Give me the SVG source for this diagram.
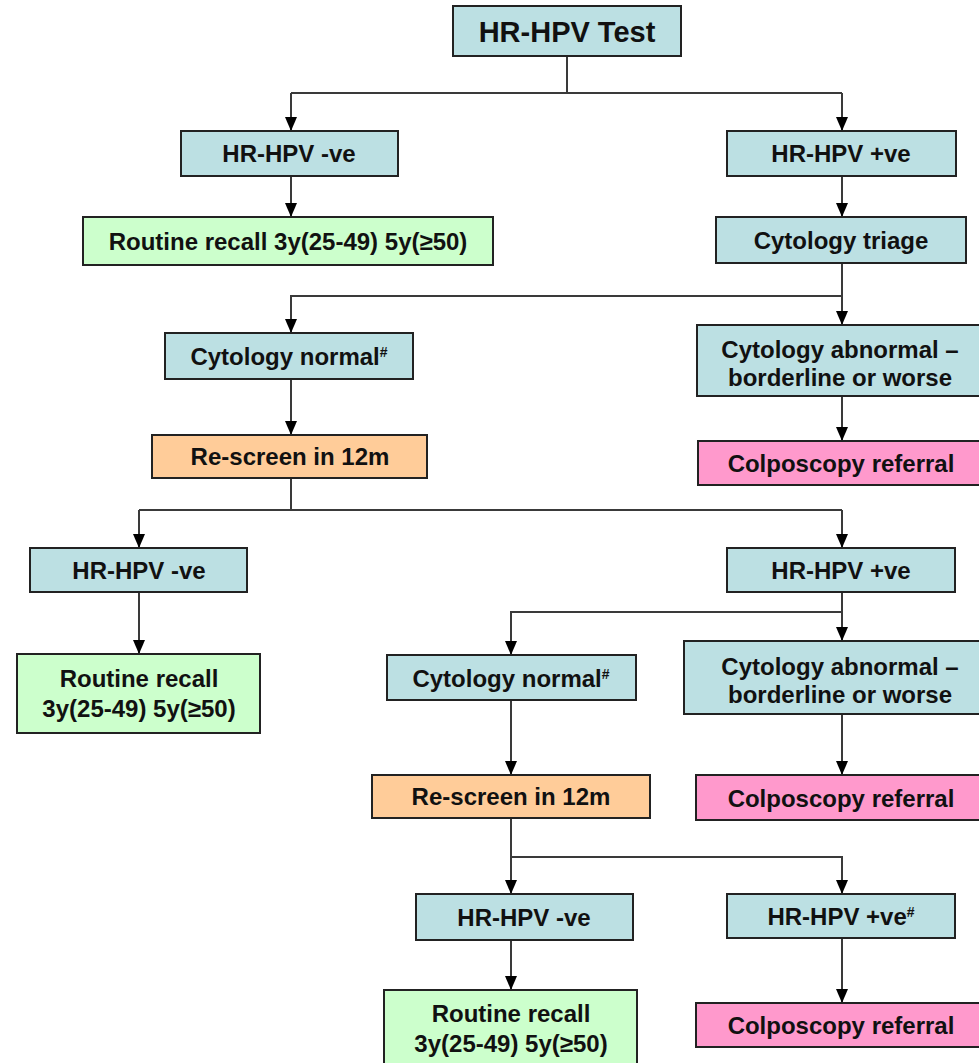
<svg xmlns="http://www.w3.org/2000/svg" width="979" height="1063" viewBox="0 0 979 1063">
<style>
  .box { stroke: #222; stroke-width: 2; }
  .blue { fill: #BCE0E3; }
  .green { fill: #CCFFCC; }
  .orange { fill: #FFCC99; }
  .pink { fill: #FF99CC; }
  text { font-family: "Liberation Sans", Arial, sans-serif; font-weight: bold; font-size: 24px; fill: #111; text-anchor: middle; }
  .title { font-size: 29px; }
  .sup { font-size: 14px; }
  .conn { fill: none; stroke: #3a3a3a; stroke-width: 2; }
</style>
<defs>
  <marker id="arr" viewBox="0 0 14 12" refX="14" refY="6" markerWidth="14" markerHeight="12" markerUnits="userSpaceOnUse" orient="auto">
    <path d="M0,0 L14,6 L0,12 Z" fill="#000"/>
  </marker>
</defs>
<rect width="979" height="1063" fill="#fff"/>

<g id="connectors">
  <path class="conn" d="M567,56 V93 M291,93 H842"/>
  <path class="conn" d="M291,93 V131" marker-end="url(#arr)"/>
  <path class="conn" d="M842,93 V131" marker-end="url(#arr)"/>
  <path class="conn" d="M291,176 V217" marker-end="url(#arr)"/>
  <path class="conn" d="M842,176 V217" marker-end="url(#arr)"/>
  <path class="conn" d="M842,263 V325" marker-end="url(#arr)"/>
  <path class="conn" d="M842,296 H291 V333" marker-end="url(#arr)"/>
  <path class="conn" d="M291,379 V435" marker-end="url(#arr)"/>
  <path class="conn" d="M842,396 V441" marker-end="url(#arr)"/>
  <path class="conn" d="M291,478 V510 M139,510 H842"/>
  <path class="conn" d="M139,510 V548" marker-end="url(#arr)"/>
  <path class="conn" d="M842,510 V548" marker-end="url(#arr)"/>
  <path class="conn" d="M139,592 V654" marker-end="url(#arr)"/>
  <path class="conn" d="M842,592 V641" marker-end="url(#arr)"/>
  <path class="conn" d="M842,612 H511 V655" marker-end="url(#arr)"/>
  <path class="conn" d="M511,700 V775" marker-end="url(#arr)"/>
  <path class="conn" d="M842,714 V775" marker-end="url(#arr)"/>
  <path class="conn" d="M511,818 V894" marker-end="url(#arr)"/>
  <path class="conn" d="M511,857 H842 V894" marker-end="url(#arr)"/>
  <path class="conn" d="M511,940 V990" marker-end="url(#arr)"/>
  <path class="conn" d="M842,938 V1003" marker-end="url(#arr)"/>
</g>

<g id="n-test"><rect class="box blue" x="453" y="6" width="228" height="50"/><text class="title" x="567" y="42">HR-HPV Test</text></g>
<g id="n-hpvneg1"><rect class="box blue" x="181" y="131" width="217" height="45"/><text x="289" y="162">HR-HPV -ve</text></g>
<g id="n-hpvpos1"><rect class="box blue" x="727" y="131" width="229" height="45"/><text x="841" y="162">HR-HPV +ve</text></g>
<g id="n-recall1"><rect class="box green" x="83" y="217" width="410" height="48"/><text x="288" y="250">Routine recall 3y(25-49) 5y(≥50)</text></g>
<g id="n-triage"><rect class="box blue" x="716" y="217" width="250" height="46"/><text x="841" y="249">Cytology triage</text></g>
<g id="n-cytnorm1"><rect class="box blue" x="165" y="333" width="248" height="46"/><text x="289" y="365">Cytology normal<tspan class="sup" dy="-8">#</tspan></text></g>
<g id="n-cytabn1"><rect class="box blue" x="697" y="325" width="290" height="71"/><text x="840" y="358">Cytology abnormal –</text><text x="840" y="386">borderline or worse</text></g>
<g id="n-rescreen1"><rect class="box orange" x="152" y="435" width="275" height="43"/><text x="290" y="465">Re-screen in 12m</text></g>
<g id="n-colpo1"><rect class="box pink" x="698" y="441" width="290" height="44"/><text x="841" y="472">Colposcopy referral</text></g>
<g id="n-hpvneg2"><rect class="box blue" x="30" y="548" width="217" height="44"/><text x="139" y="579">HR-HPV -ve</text></g>
<g id="n-hpvpos2"><rect class="box blue" x="727" y="548" width="228" height="44"/><text x="841" y="579">HR-HPV +ve</text></g>
<g id="n-recall2"><rect class="box green" x="17" y="654" width="243" height="79"/><text x="139" y="687">Routine recall</text><text x="139" y="717">3y(25-49) 5y(≥50)</text></g>
<g id="n-cytnorm2"><rect class="box blue" x="387" y="655" width="249" height="45"/><text x="511" y="687">Cytology normal<tspan class="sup" dy="-8">#</tspan></text></g>
<g id="n-cytabn2"><rect class="box blue" x="684" y="641" width="300" height="73"/><text x="840" y="675">Cytology abnormal –</text><text x="840" y="703">borderline or worse</text></g>
<g id="n-rescreen2"><rect class="box orange" x="372" y="775" width="278" height="43"/><text x="511" y="805">Re-screen in 12m</text></g>
<g id="n-colpo2"><rect class="box pink" x="696" y="775" width="290" height="45"/><text x="841" y="807">Colposcopy referral</text></g>
<g id="n-hpvneg3"><rect class="box blue" x="416" y="894" width="217" height="46"/><text x="524" y="926">HR-HPV -ve</text></g>
<g id="n-hpvpos3"><rect class="box blue" x="727" y="894" width="228" height="44"/><text x="841" y="925">HR-HPV +ve<tspan class="sup" dy="-8">#</tspan></text></g>
<g id="n-recall3"><rect class="box green" x="384" y="990" width="253" height="80"/><text x="511" y="1022">Routine recall</text><text x="511" y="1052">3y(25-49) 5y(≥50)</text></g>
<g id="n-colpo3"><rect class="box pink" x="696" y="1003" width="290" height="44"/><text x="841" y="1034">Colposcopy referral</text></g>
</svg>
